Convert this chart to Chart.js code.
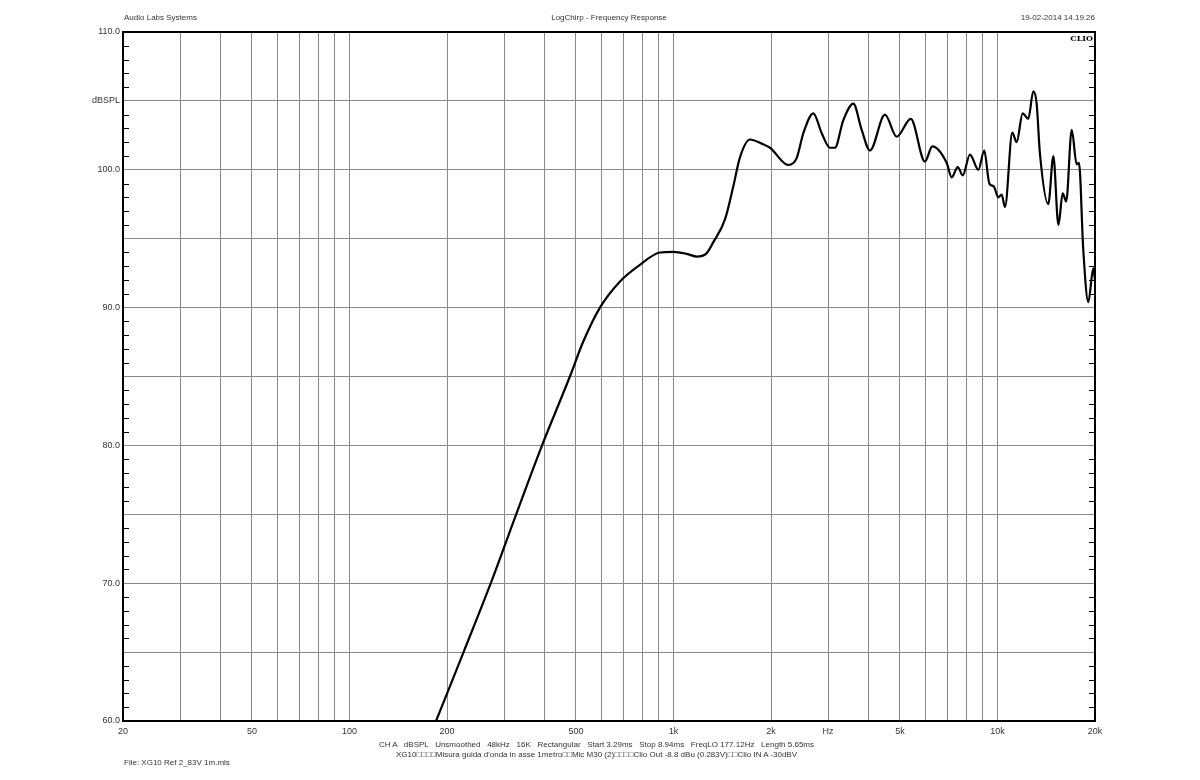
<!DOCTYPE html>
<html>
<head>
<meta charset="utf-8">
<script src="https://cdn.jsdelivr.net/npm/chart.js@4.4.0/dist/chart.umd.min.js"></script>
<style>
  body { margin: 0; background: #fff; }
  #wrap { position: relative; width: 1200px; height: 780px; }
  .txt { position: absolute; font-family: "Liberation Sans", Arial, sans-serif; font-size: 8px; color: #333; white-space: pre; }
  #clio { position: absolute; font-family: "DejaVu Serif", "Liberation Serif", serif; font-weight: bold; font-size: 8px; color: #000; }
</style>
</head>
<body>
<div id="wrap">
  <canvas id="grafico" width="1200" height="780"></canvas>
  <div class="txt" style="left:124px; top:13px;">Audio Labs Systems</div>
  <div class="txt" style="left:0; width:1218px; text-align:center; top:13px;">LogChirp - Frequency Response</div>
  <div class="txt" style="right:105px; top:13px;">19-02-2014 14.19.26</div>
  <div id="clio" style="right:107px; top:33px;">CLIO</div>
  <div class="txt" style="left:0; width:1193px; text-align:center; top:740px;">CH A   dBSPL   Unsmoothed   48kHz   16K   Rectangular   Start 3.29ms   Stop 8.94ms   FreqLO 177.12Hz   Length 5.65ms</div>
  <div class="txt" style="left:0; width:1193px; text-align:center; top:750px;">XG10□□□□Misura guida d'onda in asse 1metro□□Mic M30 (2)□□□□Clio Out -8.8 dBu (0.283V)□□Clio IN A -30dBV</div>
  <div class="txt" style="left:124px; top:758px;">File: XG10 Ref 2_83V 1m.mls</div>
</div>
<script>
// Dados (frequência em Hz, nível em dBSPL)
const frequencias = [185, 225, 273, 327, 393, 479, 526, 593, 684, 788, 908, 1000, 1100, 1182, 1260, 1324, 1442, 1530, 1604, 1722, 1872, 1986, 2261, 2400, 2516, 2702, 2868, 3041, 3150, 3344, 3590, 3810, 4040, 4496, 4886, 5400, 5974, 6294, 6972, 7224, 7540, 7812, 8224, 8730, 9102, 9440, 9740, 10058, 10300, 10550, 11112, 11460, 11960, 12450, 12900, 13210, 13520, 14350, 14876, 15420, 15900, 16300, 16950, 17560, 17850, 18400, 19070, 19760, 20000];
const nivelSPL = [60, 65, 70, 75, 80, 85, 87.5, 90, 91.9, 93.1, 94.0, 94.05, 93.9, 93.7, 93.9, 94.7, 96.4, 98.8, 100.9, 102.2, 101.9, 101.6, 100.35, 100.85, 102.65, 104.1, 102.65, 101.6, 101.6, 103.6, 104.8, 102.9, 101.4, 104.0, 102.4, 103.7, 100.6, 101.7, 100.5, 99.45, 100.2, 99.6, 101.1, 100.0, 101.4, 99.0, 98.8, 98.0, 98.2, 97.3, 102.7, 102.0, 104.1, 103.7, 105.7, 104.8, 101.2, 97.5, 101.0, 96.0, 98.3, 97.7, 102.9, 100.4, 100.5, 94.2, 90.4, 92.85, 92.0];

// Marcas do eixo X (linhas de grade) e rótulos
const ticksX = [20, 30, 40, 50, 60, 70, 80, 90, 100, 200, 300, 400, 500, 600, 700, 800, 900, 1000, 2000, 3000, 4000, 5000, 6000, 7000, 8000, 9000, 10000, 20000];
const rotulosX = { 20: '20', 50: '50', 100: '100', 200: '200', 500: '500', 1000: '1k', 2000: '2k', 3000: 'Hz', 5000: '5k', 10000: '10k', 20000: '20k' };
const ticksY = [60, 65, 70, 75, 80, 85, 90, 95, 100, 105, 110];
const rotulosY = { 60: '60.0', 70: '70.0', 80: '80.0', 90: '90.0', 100: '100.0', 105: 'dBSPL', 110: '110.0' };

const pontos = frequencias.map((f, i) => ({ x: f, y: nivelSPL[i] }));

// Moldura e marcas menores (1 dB) nos eixos
const moldura = {
    id: 'moldura',
    afterDraw(chart) {
        const { ctx, chartArea: a, scales } = chart;
        ctx.save();
        ctx.strokeStyle = '#000';
        ctx.lineWidth = 1;
        for (let v = 61; v < 110; v++) {
            if (v % 5 === 0) continue;
            const y = Math.round(scales.y.getPixelForValue(v)) + 0.5;
            ctx.beginPath();
            ctx.moveTo(a.left, y); ctx.lineTo(a.left + 6, y);
            ctx.moveTo(a.right, y); ctx.lineTo(a.right - 6, y);
            ctx.stroke();
        }
        ctx.lineWidth = 2;
        ctx.strokeRect(a.left, a.top, a.right - a.left, a.bottom - a.top);
        ctx.restore();
    }
};

const ctx = document.getElementById('grafico').getContext('2d');
new Chart(ctx, {
    type: 'line',
    data: {
        datasets: [{
            data: pontos,
            borderColor: '#000',
            borderWidth: 2.2,
            pointRadius: 0,
            cubicInterpolationMode: 'monotone',
            fill: false
        }]
    },
    options: {
        responsive: false,
        animation: false,
        layout: { padding: { top: 32, right: 105, left: 0, bottom: 0 } },
        plugins: { legend: { display: false }, tooltip: { enabled: false } },
        scales: {
            x: {
                type: 'logarithmic',
                min: 20,
                max: 20000,
                afterBuildTicks: s => { s.ticks = ticksX.map(v => ({ value: v })); },
                afterFit: s => { s.height = 59; },
                grid: { color: '#8a8a8a', lineWidth: 1, drawTicks: false },
                border: { display: false },
                ticks: {
                    autoSkip: false, maxRotation: 0, padding: 5,
                    color: '#333', font: { family: 'Liberation Sans', size: 9 },
                    callback: v => rotulosX[v] || ''
                }
            },
            y: {
                min: 60,
                max: 110,
                afterBuildTicks: s => { s.ticks = ticksY.map(v => ({ value: v })); },
                afterFit: s => { s.width = 123; },
                grid: { color: '#8a8a8a', lineWidth: 1, drawTicks: false },
                border: { display: false },
                ticks: {
                    autoSkip: false, padding: 3,
                    color: '#333', font: { family: 'Liberation Sans', size: 9 },
                    callback: v => rotulosY[v] || ''
                }
            }
        }
    },
    plugins: [moldura]
});
</script>
</body>
</html>
